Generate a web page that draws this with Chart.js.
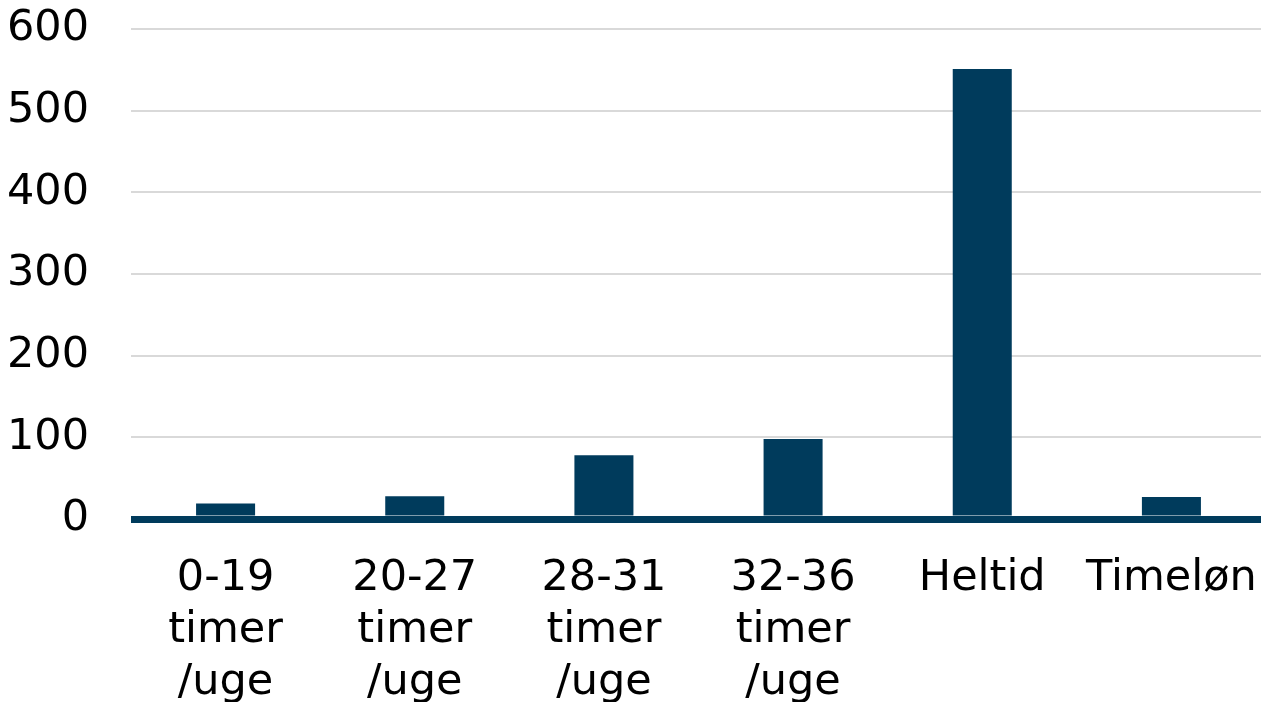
<!DOCTYPE html>
<html>
<head>
<meta charset="utf-8">
<script src="https://cdn.jsdelivr.net/npm/chart.js@4"></script>
<style>
  html, body { margin: 0; padding: 0; background: #fff; overflow: hidden; }
  #wrap { width: 1261px; height: 702px; overflow: hidden; }
</style>
</head>
<body>
<div id="wrap"><canvas id="c" width="1266" height="702"></canvas></div>
<script>
  // categories (multi-line labels) and values
  var categories = [
    ['0-19', 'timer', '/uge'],
    ['20-27', 'timer', '/uge'],
    ['28-31', 'timer', '/uge'],
    ['32-36', 'timer', '/uge'],
    'Heltid',
    'Timeløn'
  ];
  var values = [19, 28, 78, 98, 551, 27];
  var yTicks = [0, 100, 200, 300, 400, 500, 600];

  var barColor = '#003b5c';
  var font = { family: "'DejaVu Sans', Verdana, sans-serif", size: 43, lineHeight: 1.21 };

  new Chart(document.getElementById('c'), {
    type: 'bar',
    data: {
      labels: categories,
      datasets: [{
        data: values,
        backgroundColor: barColor,
        borderWidth: 0,
        categoryPercentage: 1,
        barPercentage: 0.312
      }]
    },
    options: {
      responsive: false,
      animation: false,
      layout: { padding: { top: 29, right: 0, bottom: 0, left: 1 } },
      plugins: { legend: { display: false }, tooltip: { enabled: false } },
      scales: {
        x: {
          grid: { display: false, drawTicks: false },
          border: { display: false },
          ticks: { color: '#000', font: font, maxRotation: 0, minRotation: 0, autoSkip: false, padding: 34 },
          afterFit: function(s) {
            s.height = 183;
            s.paddingLeft = 0; s.paddingRight = 0;
          }
        },
        y: {
          min: 0,
          max: 600,
          afterBuildTicks: function(s) { s.ticks = yTicks.map(function(v) { return { value: v }; }); },
          grid: {
            drawTicks: false,
            color: function(ctx) { return ctx.tick && ctx.tick.value === 0 ? barColor : '#d9d9d9'; },
            lineWidth: function(ctx) { return ctx.tick && ctx.tick.value === 0 ? 7 : 2; }
          },
          border: { display: false },
          ticks: { color: '#000', font: font, padding: 42 },
          afterFit: function(s) {
            s.width = 130;
            s.paddingTop = 0; s.paddingBottom = 0;
          }
        }
      }
    }
  });
</script>
</body>
</html>
